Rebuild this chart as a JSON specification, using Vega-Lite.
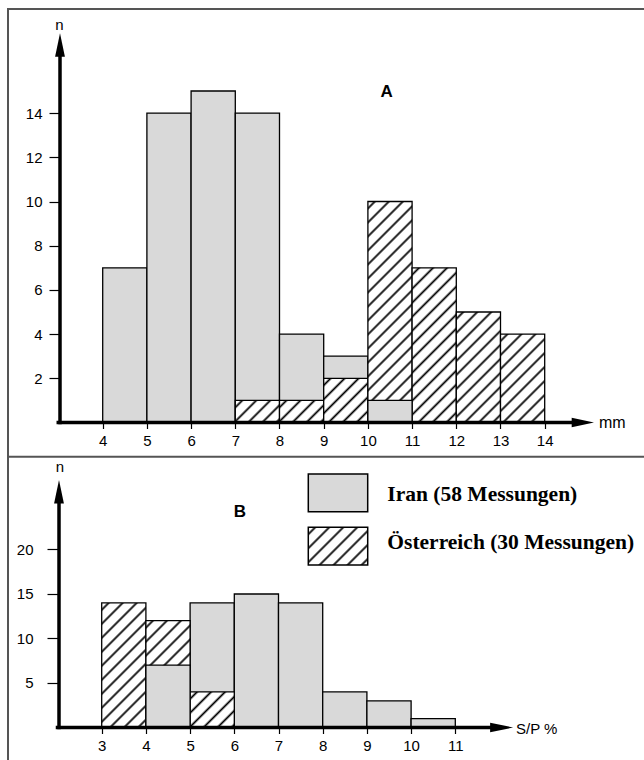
{
"$schema": "https://vega.github.io/schema/vega-lite/v6.json",
"width": 644, "height": 760, "padding": 0,
"autosize": {"type": "none"},
"background": "white",
"config": {"view": {"stroke": null}},
"datasets": {
"A": [
{"bin_start": 4, "bin_end": 5, "iran": 7, "austria": 0},
{"bin_start": 5, "bin_end": 6, "iran": 14, "austria": 0},
{"bin_start": 6, "bin_end": 7, "iran": 15, "austria": 0},
{"bin_start": 7, "bin_end": 8, "iran": 14, "austria": 1},
{"bin_start": 8, "bin_end": 9, "iran": 4, "austria": 1},
{"bin_start": 9, "bin_end": 10, "iran": 3, "austria": 2},
{"bin_start": 10, "bin_end": 11, "iran": 1, "austria": 10},
{"bin_start": 11, "bin_end": 12, "iran": 0, "austria": 7},
{"bin_start": 12, "bin_end": 13, "iran": 0, "austria": 5},
{"bin_start": 13, "bin_end": 14, "iran": 0, "austria": 4}
],
"B": [
{"bin_start": 3, "bin_end": 4, "iran": 0, "austria": 14},
{"bin_start": 4, "bin_end": 5, "iran": 7, "austria": 12},
{"bin_start": 5, "bin_end": 6, "iran": 14, "austria": 4},
{"bin_start": 6, "bin_end": 7, "iran": 15, "austria": 0},
{"bin_start": 7, "bin_end": 8, "iran": 14, "austria": 0},
{"bin_start": 8, "bin_end": 9, "iran": 4, "austria": 0},
{"bin_start": 9, "bin_end": 10, "iran": 3, "austria": 0},
{"bin_start": 10, "bin_end": 11, "iran": 1, "austria": 0}
],
"one": [{}]
},
"layer": [
{"data": {"name": "A"},
 "transform": [{"filter": "datum.iran > 0"}],
 "mark": {"type": "rect", "fill": "#d9d9d9", "stroke": "black", "strokeWidth": 1.3},
 "encoding": {
  "x": {"field": "bin_start", "type": "quantitative", "scale": {"domain": [1.6765, 16.2466], "nice": false, "zero": false},
        "axis": {"orient": "bottom", "offset": -337.5, "values": [4,5,6,7,8,9,10,11,12,13,14], "tickSize": 6, "tickWidth": 1.2, "tickColor": "black", "labelPadding": 5, "labelFontSize": 15, "labelFont": "Liberation Sans", "labelColor": "black", "domain": false, "grid": false, "title": null, "format": "d", "labelFlush": false, "labelOverlap": false}},
  "x2": {"field": "bin_end"},
  "y": {"field": "iran", "type": "quantitative", "scale": {"domain": [-15.271, 19.118], "nice": false, "zero": false},
        "axis": {"orient": "left", "offset": -60, "values": [2,4,6,8,10,12,14], "tickSize": 11, "tickWidth": 1.2, "tickColor": "black", "labelPadding": 7, "labelFontSize": 15, "labelFont": "Liberation Sans", "labelColor": "black", "domain": false, "grid": false, "title": null, "format": "d", "labelOverlap": false}},
  "y2": {"datum": 0}
 }},
{"data": {"name": "A"},
 "transform": [{"filter": "datum.austria > 0"}],
 "mark": {"type": "rect", "stroke": "black", "strokeWidth": 1.3},
 "encoding": {
  "x": {"field": "bin_start", "type": "quantitative", "scale": {"domain": [1.6765, 16.2466], "nice": false, "zero": false}, "axis": null},
  "x2": {"field": "bin_end"},
  "y": {"field": "austria", "type": "quantitative", "scale": {"domain": [-15.271, 19.118], "nice": false, "zero": false}, "axis": null},
  "y2": {"datum": 0},
  "fill": {"condition": [
   {"test": "datum.austria == 1", "value": {"gradient": "linear", "x1": 0, "y1": 0, "x2": 5.0679, "y2": 2.5339, "stops": [{"offset":0.016,"color":"#fff"},{"offset":0.025,"color":"#000"},{"offset":0.034,"color":"#fff"},{"offset":0.066,"color":"#fff"},{"offset":0.075,"color":"#000"},{"offset":0.084,"color":"#fff"},{"offset":0.116,"color":"#fff"},{"offset":0.125,"color":"#000"},{"offset":0.134,"color":"#fff"},{"offset":0.166,"color":"#fff"},{"offset":0.175,"color":"#000"},{"offset":0.184,"color":"#fff"},{"offset":0.216,"color":"#fff"},{"offset":0.225,"color":"#000"},{"offset":0.234,"color":"#fff"},{"offset":0.266,"color":"#fff"},{"offset":0.275,"color":"#000"},{"offset":0.284,"color":"#fff"},{"offset":0.316,"color":"#fff"},{"offset":0.325,"color":"#000"},{"offset":0.334,"color":"#fff"},{"offset":0.366,"color":"#fff"},{"offset":0.375,"color":"#000"},{"offset":0.384,"color":"#fff"},{"offset":0.416,"color":"#fff"},{"offset":0.425,"color":"#000"},{"offset":0.434,"color":"#fff"},{"offset":0.466,"color":"#fff"},{"offset":0.475,"color":"#000"},{"offset":0.484,"color":"#fff"},{"offset":0.516,"color":"#fff"},{"offset":0.525,"color":"#000"},{"offset":0.534,"color":"#fff"},{"offset":0.566,"color":"#fff"},{"offset":0.575,"color":"#000"},{"offset":0.584,"color":"#fff"},{"offset":0.616,"color":"#fff"},{"offset":0.625,"color":"#000"},{"offset":0.634,"color":"#fff"},{"offset":0.666,"color":"#fff"},{"offset":0.675,"color":"#000"},{"offset":0.684,"color":"#fff"},{"offset":0.716,"color":"#fff"},{"offset":0.725,"color":"#000"},{"offset":0.734,"color":"#fff"},{"offset":0.766,"color":"#fff"},{"offset":0.775,"color":"#000"},{"offset":0.784,"color":"#fff"},{"offset":0.816,"color":"#fff"},{"offset":0.825,"color":"#000"},{"offset":0.834,"color":"#fff"},{"offset":0.866,"color":"#fff"},{"offset":0.875,"color":"#000"},{"offset":0.884,"color":"#fff"},{"offset":0.916,"color":"#fff"},{"offset":0.925,"color":"#000"},{"offset":0.934,"color":"#fff"}]}},
   {"test": "datum.austria == 2", "value": {"gradient": "linear", "x1": 0, "y1": 0, "x2": 3.1674, "y2": 3.1674, "stops": [{"offset":0.016,"color":"#fff"},{"offset":0.025,"color":"#000"},{"offset":0.034,"color":"#fff"},{"offset":0.066,"color":"#fff"},{"offset":0.075,"color":"#000"},{"offset":0.084,"color":"#fff"},{"offset":0.116,"color":"#fff"},{"offset":0.125,"color":"#000"},{"offset":0.134,"color":"#fff"},{"offset":0.166,"color":"#fff"},{"offset":0.175,"color":"#000"},{"offset":0.184,"color":"#fff"},{"offset":0.216,"color":"#fff"},{"offset":0.225,"color":"#000"},{"offset":0.234,"color":"#fff"},{"offset":0.266,"color":"#fff"},{"offset":0.275,"color":"#000"},{"offset":0.284,"color":"#fff"},{"offset":0.316,"color":"#fff"},{"offset":0.325,"color":"#000"},{"offset":0.334,"color":"#fff"},{"offset":0.366,"color":"#fff"},{"offset":0.375,"color":"#000"},{"offset":0.384,"color":"#fff"},{"offset":0.416,"color":"#fff"},{"offset":0.425,"color":"#000"},{"offset":0.434,"color":"#fff"},{"offset":0.466,"color":"#fff"},{"offset":0.475,"color":"#000"},{"offset":0.484,"color":"#fff"},{"offset":0.516,"color":"#fff"},{"offset":0.525,"color":"#000"},{"offset":0.534,"color":"#fff"},{"offset":0.566,"color":"#fff"},{"offset":0.575,"color":"#000"},{"offset":0.584,"color":"#fff"},{"offset":0.616,"color":"#fff"},{"offset":0.625,"color":"#000"},{"offset":0.634,"color":"#fff"},{"offset":0.666,"color":"#fff"},{"offset":0.675,"color":"#000"},{"offset":0.684,"color":"#fff"},{"offset":0.716,"color":"#fff"},{"offset":0.725,"color":"#000"},{"offset":0.734,"color":"#fff"},{"offset":0.766,"color":"#fff"},{"offset":0.775,"color":"#000"},{"offset":0.784,"color":"#fff"},{"offset":0.816,"color":"#fff"},{"offset":0.825,"color":"#000"},{"offset":0.834,"color":"#fff"},{"offset":0.866,"color":"#fff"},{"offset":0.875,"color":"#000"},{"offset":0.884,"color":"#fff"},{"offset":0.916,"color":"#fff"},{"offset":0.925,"color":"#000"},{"offset":0.934,"color":"#fff"}]}},
   {"test": "datum.austria == 4", "value": {"gradient": "linear", "x1": 0, "y1": 0, "x2": 1.2670, "y2": 2.5339, "stops": [{"offset":0.016,"color":"#fff"},{"offset":0.025,"color":"#000"},{"offset":0.034,"color":"#fff"},{"offset":0.066,"color":"#fff"},{"offset":0.075,"color":"#000"},{"offset":0.084,"color":"#fff"},{"offset":0.116,"color":"#fff"},{"offset":0.125,"color":"#000"},{"offset":0.134,"color":"#fff"},{"offset":0.166,"color":"#fff"},{"offset":0.175,"color":"#000"},{"offset":0.184,"color":"#fff"},{"offset":0.216,"color":"#fff"},{"offset":0.225,"color":"#000"},{"offset":0.234,"color":"#fff"},{"offset":0.266,"color":"#fff"},{"offset":0.275,"color":"#000"},{"offset":0.284,"color":"#fff"},{"offset":0.316,"color":"#fff"},{"offset":0.325,"color":"#000"},{"offset":0.334,"color":"#fff"},{"offset":0.366,"color":"#fff"},{"offset":0.375,"color":"#000"},{"offset":0.384,"color":"#fff"},{"offset":0.416,"color":"#fff"},{"offset":0.425,"color":"#000"},{"offset":0.434,"color":"#fff"},{"offset":0.466,"color":"#fff"},{"offset":0.475,"color":"#000"},{"offset":0.484,"color":"#fff"},{"offset":0.516,"color":"#fff"},{"offset":0.525,"color":"#000"},{"offset":0.534,"color":"#fff"},{"offset":0.566,"color":"#fff"},{"offset":0.575,"color":"#000"},{"offset":0.584,"color":"#fff"},{"offset":0.616,"color":"#fff"},{"offset":0.625,"color":"#000"},{"offset":0.634,"color":"#fff"},{"offset":0.666,"color":"#fff"},{"offset":0.675,"color":"#000"},{"offset":0.684,"color":"#fff"},{"offset":0.716,"color":"#fff"},{"offset":0.725,"color":"#000"},{"offset":0.734,"color":"#fff"},{"offset":0.766,"color":"#fff"},{"offset":0.775,"color":"#000"},{"offset":0.784,"color":"#fff"},{"offset":0.816,"color":"#fff"},{"offset":0.825,"color":"#000"},{"offset":0.834,"color":"#fff"},{"offset":0.866,"color":"#fff"},{"offset":0.875,"color":"#000"},{"offset":0.884,"color":"#fff"},{"offset":0.916,"color":"#fff"},{"offset":0.925,"color":"#000"},{"offset":0.934,"color":"#fff"}]}},
   {"test": "datum.austria == 5", "value": {"gradient": "linear", "x1": 0, "y1": 0, "x2": 0.8738, "y2": 2.1844, "stops": [{"offset":0.016,"color":"#fff"},{"offset":0.025,"color":"#000"},{"offset":0.034,"color":"#fff"},{"offset":0.066,"color":"#fff"},{"offset":0.075,"color":"#000"},{"offset":0.084,"color":"#fff"},{"offset":0.116,"color":"#fff"},{"offset":0.125,"color":"#000"},{"offset":0.134,"color":"#fff"},{"offset":0.166,"color":"#fff"},{"offset":0.175,"color":"#000"},{"offset":0.184,"color":"#fff"},{"offset":0.216,"color":"#fff"},{"offset":0.225,"color":"#000"},{"offset":0.234,"color":"#fff"},{"offset":0.266,"color":"#fff"},{"offset":0.275,"color":"#000"},{"offset":0.284,"color":"#fff"},{"offset":0.316,"color":"#fff"},{"offset":0.325,"color":"#000"},{"offset":0.334,"color":"#fff"},{"offset":0.366,"color":"#fff"},{"offset":0.375,"color":"#000"},{"offset":0.384,"color":"#fff"},{"offset":0.416,"color":"#fff"},{"offset":0.425,"color":"#000"},{"offset":0.434,"color":"#fff"},{"offset":0.466,"color":"#fff"},{"offset":0.475,"color":"#000"},{"offset":0.484,"color":"#fff"},{"offset":0.516,"color":"#fff"},{"offset":0.525,"color":"#000"},{"offset":0.534,"color":"#fff"},{"offset":0.566,"color":"#fff"},{"offset":0.575,"color":"#000"},{"offset":0.584,"color":"#fff"},{"offset":0.616,"color":"#fff"},{"offset":0.625,"color":"#000"},{"offset":0.634,"color":"#fff"},{"offset":0.666,"color":"#fff"},{"offset":0.675,"color":"#000"},{"offset":0.684,"color":"#fff"},{"offset":0.716,"color":"#fff"},{"offset":0.725,"color":"#000"},{"offset":0.734,"color":"#fff"},{"offset":0.766,"color":"#fff"},{"offset":0.775,"color":"#000"},{"offset":0.784,"color":"#fff"},{"offset":0.816,"color":"#fff"},{"offset":0.825,"color":"#000"},{"offset":0.834,"color":"#fff"},{"offset":0.866,"color":"#fff"},{"offset":0.875,"color":"#000"},{"offset":0.884,"color":"#fff"},{"offset":0.916,"color":"#fff"},{"offset":0.925,"color":"#000"},{"offset":0.934,"color":"#fff"}]}},
   {"test": "datum.austria == 7", "value": {"gradient": "linear", "x1": 0, "y1": 0, "x2": 0.4781, "y2": 1.6734, "stops": [{"offset":0.016,"color":"#fff"},{"offset":0.025,"color":"#000"},{"offset":0.034,"color":"#fff"},{"offset":0.066,"color":"#fff"},{"offset":0.075,"color":"#000"},{"offset":0.084,"color":"#fff"},{"offset":0.116,"color":"#fff"},{"offset":0.125,"color":"#000"},{"offset":0.134,"color":"#fff"},{"offset":0.166,"color":"#fff"},{"offset":0.175,"color":"#000"},{"offset":0.184,"color":"#fff"},{"offset":0.216,"color":"#fff"},{"offset":0.225,"color":"#000"},{"offset":0.234,"color":"#fff"},{"offset":0.266,"color":"#fff"},{"offset":0.275,"color":"#000"},{"offset":0.284,"color":"#fff"},{"offset":0.316,"color":"#fff"},{"offset":0.325,"color":"#000"},{"offset":0.334,"color":"#fff"},{"offset":0.366,"color":"#fff"},{"offset":0.375,"color":"#000"},{"offset":0.384,"color":"#fff"},{"offset":0.416,"color":"#fff"},{"offset":0.425,"color":"#000"},{"offset":0.434,"color":"#fff"},{"offset":0.466,"color":"#fff"},{"offset":0.475,"color":"#000"},{"offset":0.484,"color":"#fff"},{"offset":0.516,"color":"#fff"},{"offset":0.525,"color":"#000"},{"offset":0.534,"color":"#fff"},{"offset":0.566,"color":"#fff"},{"offset":0.575,"color":"#000"},{"offset":0.584,"color":"#fff"},{"offset":0.616,"color":"#fff"},{"offset":0.625,"color":"#000"},{"offset":0.634,"color":"#fff"},{"offset":0.666,"color":"#fff"},{"offset":0.675,"color":"#000"},{"offset":0.684,"color":"#fff"},{"offset":0.716,"color":"#fff"},{"offset":0.725,"color":"#000"},{"offset":0.734,"color":"#fff"},{"offset":0.766,"color":"#fff"},{"offset":0.775,"color":"#000"},{"offset":0.784,"color":"#fff"},{"offset":0.816,"color":"#fff"},{"offset":0.825,"color":"#000"},{"offset":0.834,"color":"#fff"},{"offset":0.866,"color":"#fff"},{"offset":0.875,"color":"#000"},{"offset":0.884,"color":"#fff"},{"offset":0.916,"color":"#fff"},{"offset":0.925,"color":"#000"},{"offset":0.934,"color":"#fff"}]}}
  ],
  "value": {"gradient": "linear", "x1": 0, "y1": 0, "x2": 0.2437, "y2": 1.2182, "stops": [{"offset":0.016,"color":"#fff"},{"offset":0.025,"color":"#000"},{"offset":0.034,"color":"#fff"},{"offset":0.066,"color":"#fff"},{"offset":0.075,"color":"#000"},{"offset":0.084,"color":"#fff"},{"offset":0.116,"color":"#fff"},{"offset":0.125,"color":"#000"},{"offset":0.134,"color":"#fff"},{"offset":0.166,"color":"#fff"},{"offset":0.175,"color":"#000"},{"offset":0.184,"color":"#fff"},{"offset":0.216,"color":"#fff"},{"offset":0.225,"color":"#000"},{"offset":0.234,"color":"#fff"},{"offset":0.266,"color":"#fff"},{"offset":0.275,"color":"#000"},{"offset":0.284,"color":"#fff"},{"offset":0.316,"color":"#fff"},{"offset":0.325,"color":"#000"},{"offset":0.334,"color":"#fff"},{"offset":0.366,"color":"#fff"},{"offset":0.375,"color":"#000"},{"offset":0.384,"color":"#fff"},{"offset":0.416,"color":"#fff"},{"offset":0.425,"color":"#000"},{"offset":0.434,"color":"#fff"},{"offset":0.466,"color":"#fff"},{"offset":0.475,"color":"#000"},{"offset":0.484,"color":"#fff"},{"offset":0.516,"color":"#fff"},{"offset":0.525,"color":"#000"},{"offset":0.534,"color":"#fff"},{"offset":0.566,"color":"#fff"},{"offset":0.575,"color":"#000"},{"offset":0.584,"color":"#fff"},{"offset":0.616,"color":"#fff"},{"offset":0.625,"color":"#000"},{"offset":0.634,"color":"#fff"},{"offset":0.666,"color":"#fff"},{"offset":0.675,"color":"#000"},{"offset":0.684,"color":"#fff"},{"offset":0.716,"color":"#fff"},{"offset":0.725,"color":"#000"},{"offset":0.734,"color":"#fff"},{"offset":0.766,"color":"#fff"},{"offset":0.775,"color":"#000"},{"offset":0.784,"color":"#fff"},{"offset":0.816,"color":"#fff"},{"offset":0.825,"color":"#000"},{"offset":0.834,"color":"#fff"},{"offset":0.866,"color":"#fff"},{"offset":0.875,"color":"#000"},{"offset":0.884,"color":"#fff"},{"offset":0.916,"color":"#fff"},{"offset":0.925,"color":"#000"},{"offset":0.934,"color":"#fff"}]}
  }
 }},
{"data": {"name": "A"},
 "transform": [{"filter": "datum.iran > 0 && datum.iran < datum.austria"}],
 "mark": {"type": "rect", "fill": "#d9d9d9", "stroke": "black", "strokeWidth": 1.3},
 "encoding": {
  "x": {"field": "bin_start", "type": "quantitative", "scale": {"domain": [1.6765, 16.2466], "nice": false, "zero": false}, "axis": null},
  "x2": {"field": "bin_end"},
  "y": {"field": "iran", "type": "quantitative", "scale": {"domain": [-15.271, 19.118], "nice": false, "zero": false}, "axis": null},
  "y2": {"datum": 0}
 }},
{"data": {"name": "one"},
 "mark": {"type": "rule", "color": "#555", "strokeWidth": 2, "strokeCap": "square"},
 "encoding": {"x": {"datum": 1.8575, "type": "quantitative", "scale": {"domain": [1.6765, 16.2466], "nice": false, "zero": false}, "axis": null},
  "y": {"datum": 18.71, "type": "quantitative", "scale": {"domain": [-15.271, 19.118], "nice": false, "zero": false}, "axis": null},
  "y2": {"datum": -15.271}}},
{"data": {"name": "one"},
 "mark": {"type": "rule", "color": "#555", "strokeWidth": 2, "strokeCap": "square"},
 "encoding": {"x": {"datum": 1.8575, "type": "quantitative", "scale": {"domain": [1.6765, 16.2466], "nice": false, "zero": false}, "axis": null},
  "x2": {"datum": 16.2466},
  "y": {"datum": 18.71, "type": "quantitative", "scale": {"domain": [-15.271, 19.118], "nice": false, "zero": false}, "axis": null}}},
{"data": {"name": "one"},
 "mark": {"type": "rule", "color": "#555", "strokeWidth": 2, "strokeCap": "square"},
 "encoding": {"x": {"datum": 1.8575, "type": "quantitative", "scale": {"domain": [1.6765, 16.2466], "nice": false, "zero": false}, "axis": null},
  "x2": {"datum": 16.2466},
  "y": {"datum": -1.5475, "type": "quantitative", "scale": {"domain": [-15.271, 19.118], "nice": false, "zero": false}, "axis": null}}},
{"data": {"name": "one"},
 "mark": {"type": "rule", "color": "black", "strokeWidth": 3.5, "strokeCap": "square"},
 "encoding": {"x": {"datum": 3.034, "type": "quantitative", "scale": {"domain": [1.6765, 16.2466], "nice": false, "zero": false}, "axis": null},
  "y": {"datum": 0, "type": "quantitative", "scale": {"domain": [-15.271, 19.118], "nice": false, "zero": false}, "axis": null},
  "y2": {"datum": 16.855}}},
{"data": {"name": "one"},
 "mark": {"type": "rule", "color": "black", "strokeWidth": 3.5, "strokeCap": "square"},
 "encoding": {"x": {"datum": 2.995, "type": "quantitative", "scale": {"domain": [1.6765, 16.2466], "nice": false, "zero": false}, "axis": null},
  "x2": {"datum": 14.686},
  "y": {"datum": 0, "type": "quantitative", "scale": {"domain": [-15.271, 19.118], "nice": false, "zero": false}, "axis": null}}},
{"data": {"name": "one"},
 "mark": {"type": "point", "shape": "M0,-1L0.42,1L-0.42,1Z", "size": 548, "filled": true, "color": "black", "opacity": 1, "strokeWidth": 0},
 "encoding": {"x": {"datum": 3.034, "type": "quantitative", "scale": {"domain": [1.6765, 16.2466], "nice": false, "zero": false}, "axis": null},
  "y": {"datum": 17.082, "type": "quantitative", "scale": {"domain": [-15.271, 19.118], "nice": false, "zero": false}, "axis": null}}},
{"data": {"name": "one"},
 "mark": {"type": "point", "shape": "M1,0L-1,0.42L-1,-0.42Z", "size": 497, "filled": true, "color": "black", "opacity": 1, "strokeWidth": 0},
 "encoding": {"x": {"datum": 14.863, "type": "quantitative", "scale": {"domain": [1.6765, 16.2466], "nice": false, "zero": false}, "axis": null},
  "y": {"datum": 0, "type": "quantitative", "scale": {"domain": [-15.271, 19.118], "nice": false, "zero": false}, "axis": null}}},
{"data": {"name": "one"},
 "mark": {"type": "text", "text": "n", "font": "Liberation Sans", "fontSize": 15, "align": "center", "baseline": "middle", "color": "black"},
 "encoding": {"x": {"datum": 3.02, "type": "quantitative", "scale": {"domain": [1.6765, 16.2466], "nice": false, "zero": false}, "axis": null},
  "y": {"datum": 18.0, "type": "quantitative", "scale": {"domain": [-15.271, 19.118], "nice": false, "zero": false}, "axis": null}}},
{"data": {"name": "one"},
 "mark": {"type": "text", "text": "mm", "font": "Liberation Sans", "fontSize": 16, "align": "left", "baseline": "middle", "color": "black"},
 "encoding": {"x": {"datum": 15.229, "type": "quantitative", "scale": {"domain": [1.6765, 16.2466], "nice": false, "zero": false}, "axis": null},
  "y": {"datum": 0, "type": "quantitative", "scale": {"domain": [-15.271, 19.118], "nice": false, "zero": false}, "axis": null}}},
{"data": {"name": "one"},
 "mark": {"type": "text", "text": "A", "font": "Liberation Sans", "fontSize": 17, "fontWeight": "bold", "align": "center", "baseline": "middle", "color": "black"},
 "encoding": {"x": {"datum": 10.425, "type": "quantitative", "scale": {"domain": [1.6765, 16.2466], "nice": false, "zero": false}, "axis": null},
  "y": {"datum": 14.941, "type": "quantitative", "scale": {"domain": [-15.271, 19.118], "nice": false, "zero": false}, "axis": null}}},
{"data": {"name": "B"},
 "transform": [{"filter": "datum.iran > 0"}],
 "mark": {"type": "rect", "fill": "#d9d9d9", "stroke": "black", "strokeWidth": 1.3},
 "encoding": {
  "x": {"field": "bin_start", "type": "quantitative", "scale": {"domain": [0.6991, 15.269], "nice": false, "zero": false},
        "axis": {"orient": "bottom", "offset": -32.5, "values": [3,4,5,6,7,8,9,10,11], "tickSize": 6, "tickWidth": 1.2, "tickColor": "black", "labelPadding": 5, "labelFontSize": 15, "labelFont": "Liberation Sans", "labelColor": "black", "domain": false, "grid": false, "title": null, "format": "d", "labelFlush": false, "labelOverlap": false}},
  "x2": {"field": "bin_end"},
  "y": {"field": "iran", "type": "quantitative", "scale": {"domain": [-3.652, 81.74], "nice": false, "zero": false},
        "axis": {"orient": "left", "offset": -59, "values": [5,10,15,20], "tickSize": 12, "tickWidth": 1.2, "tickColor": "black", "labelPadding": 14, "labelFontSize": 15, "labelFont": "Liberation Sans", "labelColor": "black", "domain": false, "grid": false, "title": null, "format": "d", "labelOverlap": false}},
  "y2": {"datum": 0}
 }},
{"data": {"name": "B"},
 "transform": [{"filter": "datum.austria > 0"}],
 "mark": {"type": "rect", "stroke": "black", "strokeWidth": 1.3},
 "encoding": {
  "x": {"field": "bin_start", "type": "quantitative", "scale": {"domain": [0.6991, 15.269], "nice": false, "zero": false}, "axis": null},
  "x2": {"field": "bin_end"},
  "y": {"field": "austria", "type": "quantitative", "scale": {"domain": [-3.652, 81.74], "nice": false, "zero": false}, "axis": null},
  "y2": {"datum": 0},
  "fill": {"condition": [
   {"test": "datum.austria == 4", "value": {"gradient": "linear", "x1": 0, "y1": 0, "x2": 3.8423, "y2": 3.0947, "stops": [{"offset":0.016,"color":"#fff"},{"offset":0.025,"color":"#000"},{"offset":0.034,"color":"#fff"},{"offset":0.066,"color":"#fff"},{"offset":0.075,"color":"#000"},{"offset":0.084,"color":"#fff"},{"offset":0.116,"color":"#fff"},{"offset":0.125,"color":"#000"},{"offset":0.134,"color":"#fff"},{"offset":0.166,"color":"#fff"},{"offset":0.175,"color":"#000"},{"offset":0.184,"color":"#fff"},{"offset":0.216,"color":"#fff"},{"offset":0.225,"color":"#000"},{"offset":0.234,"color":"#fff"},{"offset":0.266,"color":"#fff"},{"offset":0.275,"color":"#000"},{"offset":0.284,"color":"#fff"},{"offset":0.316,"color":"#fff"},{"offset":0.325,"color":"#000"},{"offset":0.334,"color":"#fff"},{"offset":0.366,"color":"#fff"},{"offset":0.375,"color":"#000"},{"offset":0.384,"color":"#fff"},{"offset":0.416,"color":"#fff"},{"offset":0.425,"color":"#000"},{"offset":0.434,"color":"#fff"},{"offset":0.466,"color":"#fff"},{"offset":0.475,"color":"#000"},{"offset":0.484,"color":"#fff"},{"offset":0.516,"color":"#fff"},{"offset":0.525,"color":"#000"},{"offset":0.534,"color":"#fff"},{"offset":0.566,"color":"#fff"},{"offset":0.575,"color":"#000"},{"offset":0.584,"color":"#fff"},{"offset":0.616,"color":"#fff"},{"offset":0.625,"color":"#000"},{"offset":0.634,"color":"#fff"},{"offset":0.666,"color":"#fff"},{"offset":0.675,"color":"#000"},{"offset":0.684,"color":"#fff"},{"offset":0.716,"color":"#fff"},{"offset":0.725,"color":"#000"},{"offset":0.734,"color":"#fff"},{"offset":0.766,"color":"#fff"},{"offset":0.775,"color":"#000"},{"offset":0.784,"color":"#fff"},{"offset":0.816,"color":"#fff"},{"offset":0.825,"color":"#000"},{"offset":0.834,"color":"#fff"},{"offset":0.866,"color":"#fff"},{"offset":0.875,"color":"#000"},{"offset":0.884,"color":"#fff"},{"offset":0.916,"color":"#fff"},{"offset":0.925,"color":"#000"},{"offset":0.934,"color":"#fff"}]}},
   {"test": "datum.austria == 12", "value": {"gradient": "linear", "x1": 0, "y1": 0, "x2": 0.9264, "y2": 2.2383, "stops": [{"offset":0.016,"color":"#fff"},{"offset":0.025,"color":"#000"},{"offset":0.034,"color":"#fff"},{"offset":0.066,"color":"#fff"},{"offset":0.075,"color":"#000"},{"offset":0.084,"color":"#fff"},{"offset":0.116,"color":"#fff"},{"offset":0.125,"color":"#000"},{"offset":0.134,"color":"#fff"},{"offset":0.166,"color":"#fff"},{"offset":0.175,"color":"#000"},{"offset":0.184,"color":"#fff"},{"offset":0.216,"color":"#fff"},{"offset":0.225,"color":"#000"},{"offset":0.234,"color":"#fff"},{"offset":0.266,"color":"#fff"},{"offset":0.275,"color":"#000"},{"offset":0.284,"color":"#fff"},{"offset":0.316,"color":"#fff"},{"offset":0.325,"color":"#000"},{"offset":0.334,"color":"#fff"},{"offset":0.366,"color":"#fff"},{"offset":0.375,"color":"#000"},{"offset":0.384,"color":"#fff"},{"offset":0.416,"color":"#fff"},{"offset":0.425,"color":"#000"},{"offset":0.434,"color":"#fff"},{"offset":0.466,"color":"#fff"},{"offset":0.475,"color":"#000"},{"offset":0.484,"color":"#fff"},{"offset":0.516,"color":"#fff"},{"offset":0.525,"color":"#000"},{"offset":0.534,"color":"#fff"},{"offset":0.566,"color":"#fff"},{"offset":0.575,"color":"#000"},{"offset":0.584,"color":"#fff"},{"offset":0.616,"color":"#fff"},{"offset":0.625,"color":"#000"},{"offset":0.634,"color":"#fff"},{"offset":0.666,"color":"#fff"},{"offset":0.675,"color":"#000"},{"offset":0.684,"color":"#fff"},{"offset":0.716,"color":"#fff"},{"offset":0.725,"color":"#000"},{"offset":0.734,"color":"#fff"},{"offset":0.766,"color":"#fff"},{"offset":0.775,"color":"#000"},{"offset":0.784,"color":"#fff"},{"offset":0.816,"color":"#fff"},{"offset":0.825,"color":"#000"},{"offset":0.834,"color":"#fff"},{"offset":0.866,"color":"#fff"},{"offset":0.875,"color":"#000"},{"offset":0.884,"color":"#fff"},{"offset":0.916,"color":"#fff"},{"offset":0.925,"color":"#000"},{"offset":0.934,"color":"#fff"}]}}
  ],
  "value": {"gradient": "linear", "x1": 0, "y1": 0, "x2": 0.7081, "y2": 1.9960, "stops": [{"offset":0.016,"color":"#fff"},{"offset":0.025,"color":"#000"},{"offset":0.034,"color":"#fff"},{"offset":0.066,"color":"#fff"},{"offset":0.075,"color":"#000"},{"offset":0.084,"color":"#fff"},{"offset":0.116,"color":"#fff"},{"offset":0.125,"color":"#000"},{"offset":0.134,"color":"#fff"},{"offset":0.166,"color":"#fff"},{"offset":0.175,"color":"#000"},{"offset":0.184,"color":"#fff"},{"offset":0.216,"color":"#fff"},{"offset":0.225,"color":"#000"},{"offset":0.234,"color":"#fff"},{"offset":0.266,"color":"#fff"},{"offset":0.275,"color":"#000"},{"offset":0.284,"color":"#fff"},{"offset":0.316,"color":"#fff"},{"offset":0.325,"color":"#000"},{"offset":0.334,"color":"#fff"},{"offset":0.366,"color":"#fff"},{"offset":0.375,"color":"#000"},{"offset":0.384,"color":"#fff"},{"offset":0.416,"color":"#fff"},{"offset":0.425,"color":"#000"},{"offset":0.434,"color":"#fff"},{"offset":0.466,"color":"#fff"},{"offset":0.475,"color":"#000"},{"offset":0.484,"color":"#fff"},{"offset":0.516,"color":"#fff"},{"offset":0.525,"color":"#000"},{"offset":0.534,"color":"#fff"},{"offset":0.566,"color":"#fff"},{"offset":0.575,"color":"#000"},{"offset":0.584,"color":"#fff"},{"offset":0.616,"color":"#fff"},{"offset":0.625,"color":"#000"},{"offset":0.634,"color":"#fff"},{"offset":0.666,"color":"#fff"},{"offset":0.675,"color":"#000"},{"offset":0.684,"color":"#fff"},{"offset":0.716,"color":"#fff"},{"offset":0.725,"color":"#000"},{"offset":0.734,"color":"#fff"},{"offset":0.766,"color":"#fff"},{"offset":0.775,"color":"#000"},{"offset":0.784,"color":"#fff"},{"offset":0.816,"color":"#fff"},{"offset":0.825,"color":"#000"},{"offset":0.834,"color":"#fff"},{"offset":0.866,"color":"#fff"},{"offset":0.875,"color":"#000"},{"offset":0.884,"color":"#fff"},{"offset":0.916,"color":"#fff"},{"offset":0.925,"color":"#000"},{"offset":0.934,"color":"#fff"}]}
  }
 }},
{"data": {"name": "B"},
 "transform": [{"filter": "datum.iran > 0 && datum.iran < datum.austria"}],
 "mark": {"type": "rect", "fill": "#d9d9d9", "stroke": "black", "strokeWidth": 1.3},
 "encoding": {
  "x": {"field": "bin_start", "type": "quantitative", "scale": {"domain": [0.6991, 15.269], "nice": false, "zero": false}, "axis": null},
  "x2": {"field": "bin_end"},
  "y": {"field": "iran", "type": "quantitative", "scale": {"domain": [-3.652, 81.74], "nice": false, "zero": false}, "axis": null},
  "y2": {"datum": 0}
 }},
{"data": {"name": "one"},
 "mark": {"type": "rule", "color": "black", "strokeWidth": 3.5, "strokeCap": "square"},
 "encoding": {"x": {"datum": 2.034, "type": "quantitative", "scale": {"domain": [0.6991, 15.269], "nice": false, "zero": false}, "axis": null},
  "y": {"datum": 0, "type": "quantitative", "scale": {"domain": [-3.652, 81.74], "nice": false, "zero": false}, "axis": null},
  "y2": {"datum": 25.79}}},
{"data": {"name": "one"},
 "mark": {"type": "rule", "color": "black", "strokeWidth": 3.5, "strokeCap": "square"},
 "encoding": {"x": {"datum": 2.0, "type": "quantitative", "scale": {"domain": [0.6991, 15.269], "nice": false, "zero": false}, "axis": null},
  "x2": {"datum": 11.898},
  "y": {"datum": 0, "type": "quantitative", "scale": {"domain": [-3.652, 81.74], "nice": false, "zero": false}, "axis": null}}},
{"data": {"name": "one"},
 "mark": {"type": "point", "shape": "M0,-1L0.42,1L-0.42,1Z", "size": 548, "filled": true, "color": "black", "opacity": 1, "strokeWidth": 0},
 "encoding": {"x": {"datum": 2.034, "type": "quantitative", "scale": {"domain": [0.6991, 15.269], "nice": false, "zero": false}, "axis": null},
  "y": {"datum": 26.494, "type": "quantitative", "scale": {"domain": [-3.652, 81.74], "nice": false, "zero": false}, "axis": null}}},
{"data": {"name": "one"},
 "mark": {"type": "point", "shape": "M1,0L-1,0.42L-1,-0.42Z", "size": 530, "filled": true, "color": "black", "opacity": 1, "strokeWidth": 0},
 "encoding": {"x": {"datum": 12.048, "type": "quantitative", "scale": {"domain": [0.6991, 15.269], "nice": false, "zero": false}, "axis": null},
  "y": {"datum": 0, "type": "quantitative", "scale": {"domain": [-3.652, 81.74], "nice": false, "zero": false}, "axis": null}}},
{"data": {"name": "one"},
 "mark": {"type": "text", "text": "n", "font": "Liberation Sans", "fontSize": 15, "align": "center", "baseline": "middle", "color": "black"},
 "encoding": {"x": {"datum": 2.0566, "type": "quantitative", "scale": {"domain": [0.6991, 15.269], "nice": false, "zero": false}, "axis": null},
  "y": {"datum": 29.236, "type": "quantitative", "scale": {"domain": [-3.652, 81.74], "nice": false, "zero": false}, "axis": null}}},
{"data": {"name": "one"},
 "mark": {"type": "text", "text": "S/P %", "font": "Liberation Sans", "fontSize": 15, "align": "left", "baseline": "middle", "color": "black"},
 "encoding": {"x": {"datum": 12.373, "type": "quantitative", "scale": {"domain": [0.6991, 15.269], "nice": false, "zero": false}, "axis": null},
  "y": {"datum": -0.17, "type": "quantitative", "scale": {"domain": [-3.652, 81.74], "nice": false, "zero": false}, "axis": null}}},
{"data": {"name": "one"},
 "mark": {"type": "text", "text": "B", "font": "Liberation Sans", "fontSize": 17, "fontWeight": "bold", "align": "center", "baseline": "middle", "color": "black"},
 "encoding": {"x": {"datum": 6.129, "type": "quantitative", "scale": {"domain": [0.6991, 15.269], "nice": false, "zero": false}, "axis": null},
  "y": {"datum": 24.247, "type": "quantitative", "scale": {"domain": [-3.652, 81.74], "nice": false, "zero": false}, "axis": null}}},
{"data": {"name": "one"},
 "mark": {"type": "rect", "fill": "#d9d9d9", "stroke": "black", "strokeWidth": 1.5},
 "encoding": {"x": {"datum": 7.674, "type": "quantitative", "scale": {"domain": [0.6991, 15.269], "nice": false, "zero": false}, "axis": null},
  "x2": {"datum": 9.018},
  "y": {"datum": 28.483, "type": "quantitative", "scale": {"domain": [-3.652, 81.74], "nice": false, "zero": false}, "axis": null},
  "y2": {"datum": 24.247}}},
{"data": {"name": "one"},
 "mark": {"type": "rect", "stroke": "black", "strokeWidth": 1.5,
  "fill": {"gradient": "linear", "x1": 0, "y1": 0, "x2": 3.3602, "y2": 2.1327, "stops": [{"offset":0.016,"color":"#fff"},{"offset":0.025,"color":"#000"},{"offset":0.034,"color":"#fff"},{"offset":0.066,"color":"#fff"},{"offset":0.075,"color":"#000"},{"offset":0.084,"color":"#fff"},{"offset":0.116,"color":"#fff"},{"offset":0.125,"color":"#000"},{"offset":0.134,"color":"#fff"},{"offset":0.166,"color":"#fff"},{"offset":0.175,"color":"#000"},{"offset":0.184,"color":"#fff"},{"offset":0.216,"color":"#fff"},{"offset":0.225,"color":"#000"},{"offset":0.234,"color":"#fff"},{"offset":0.266,"color":"#fff"},{"offset":0.275,"color":"#000"},{"offset":0.284,"color":"#fff"},{"offset":0.316,"color":"#fff"},{"offset":0.325,"color":"#000"},{"offset":0.334,"color":"#fff"},{"offset":0.366,"color":"#fff"},{"offset":0.375,"color":"#000"},{"offset":0.384,"color":"#fff"},{"offset":0.416,"color":"#fff"},{"offset":0.425,"color":"#000"},{"offset":0.434,"color":"#fff"}]}},
 "encoding": {"x": {"datum": 7.674, "type": "quantitative", "scale": {"domain": [0.6991, 15.269], "nice": false, "zero": false}, "axis": null},
  "x2": {"datum": 9.018},
  "y": {"datum": 22.494, "type": "quantitative", "scale": {"domain": [-3.652, 81.74], "nice": false, "zero": false}, "axis": null},
  "y2": {"datum": 18.258}}},
{"data": {"name": "one"},
 "mark": {"type": "text", "text": "Iran (58 Messungen)", "font": "Liberation Serif", "fontSize": 21.5, "fontWeight": "bold", "align": "left", "baseline": "alphabetic", "color": "black"},
 "encoding": {"x": {"datum": 9.462, "type": "quantitative", "scale": {"domain": [0.6991, 15.269], "nice": false, "zero": false}, "axis": null},
  "y": {"datum": 25.483, "type": "quantitative", "scale": {"domain": [-3.652, 81.74], "nice": false, "zero": false}, "axis": null}}},
{"data": {"name": "one"},
 "mark": {"type": "text", "text": "Österreich (30 Messungen)", "font": "Liberation Serif", "fontSize": 21.5, "fontWeight": "bold", "align": "left", "baseline": "alphabetic", "color": "black"},
 "encoding": {"x": {"datum": 9.462, "type": "quantitative", "scale": {"domain": [0.6991, 15.269], "nice": false, "zero": false}, "axis": null},
  "y": {"datum": 20.022, "type": "quantitative", "scale": {"domain": [-3.652, 81.74], "nice": false, "zero": false}, "axis": null}}}
],
"resolve": {"scale": {"x": "independent", "y": "independent"}, "axis": {"x": "independent", "y": "independent"}}
}
